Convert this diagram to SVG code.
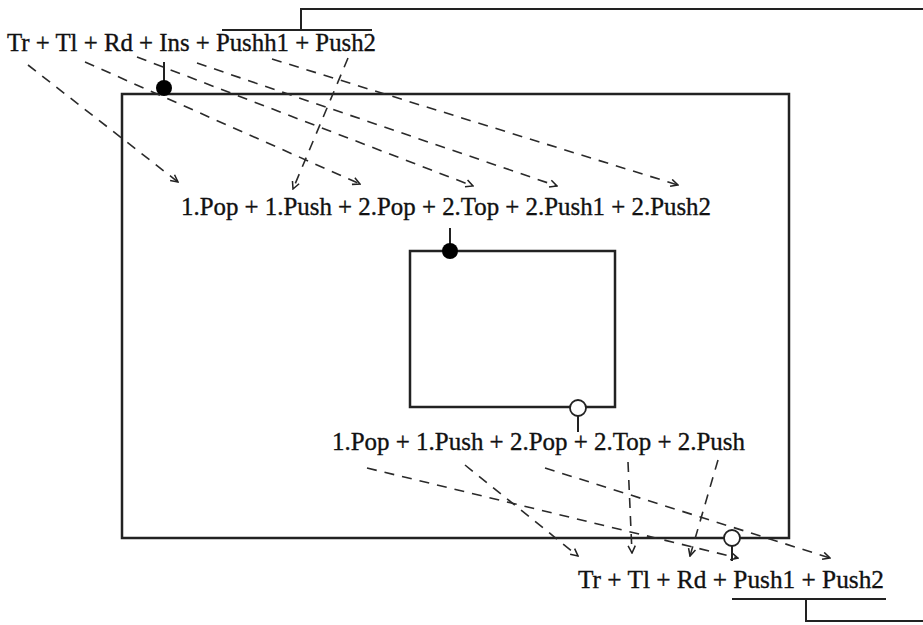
<svg xmlns="http://www.w3.org/2000/svg" width="923" height="625" viewBox="0 0 923 625">
  <defs>
    <marker id="arr" viewBox="0 0 10 10" refX="9" refY="5" markerWidth="9" markerHeight="9" markerUnits="userSpaceOnUse" orient="auto">
      <path d="M1,1 L9,5 L1,9" fill="none" stroke="#222" stroke-width="1.7"/>
    </marker>
  </defs>
  <style>
    .lbl { font-family: "Liberation Serif", "Times New Roman", serif; font-size: 26px; fill: #111; stroke: #111; stroke-width: 0.35; }
    .box { fill: none; stroke: #222; stroke-width: 2.5; }
    .ln { fill: none; stroke: #222; stroke-width: 2; }
    .dash { fill: none; stroke: #2a2a2a; stroke-width: 1.6; stroke-dasharray: 10 8; marker-end: url(#arr); }
    .dot { fill: #000; }
    .ring { fill: #fff; stroke: #222; stroke-width: 1.8; }
  </style>
  <rect width="923" height="625" fill="#fff"/>

  <g id="outer-box">
    <rect class="box" x="122" y="94" width="667" height="444"/>
  </g>
  <g id="inner-box">
    <rect class="box" x="410" y="251" width="205" height="156"/>
  </g>

  <g id="top-label">
    <text class="lbl" x="7" y="51" textLength="369" lengthAdjust="spacingAndGlyphs">Tr + Tl + Rd + Ins + Pushh1 + Push2</text>
    <path class="ln" d="M222,30 H372 M301,30 V9 H923"/>
  </g>
  <g id="outer-label">
    <text class="lbl" x="181" y="215" textLength="530" lengthAdjust="spacingAndGlyphs">1.Pop + 1.Push + 2.Pop + 2.Top + 2.Push1 + 2.Push2</text>
  </g>
  <g id="inner-label">
    <text class="lbl" x="332" y="450" textLength="413" lengthAdjust="spacingAndGlyphs">1.Pop + 1.Push + 2.Pop + 2.Top + 2.Push</text>
  </g>
  <g id="bottom-label">
    <text class="lbl" x="578" y="588" textLength="306" lengthAdjust="spacingAndGlyphs">Tr + Tl + Rd + Push1 + Push2</text>
    <path class="ln" d="M732,599 H886 M806,599 V621 H923"/>
  </g>

  <g id="port-outer-in">
    <line class="ln" x1="164" y1="62" x2="164" y2="82"/>
    <circle class="dot" cx="164" cy="88" r="8"/>
  </g>
  <g id="port-inner-in">
    <line class="ln" x1="450" y1="228" x2="450" y2="245"/>
    <circle class="dot" cx="450" cy="251" r="8"/>
  </g>
  <g id="port-inner-out">
    <line class="ln" x1="578" y1="416" x2="578" y2="432"/>
    <circle class="ring" cx="578" cy="408" r="8"/>
  </g>
  <g id="port-outer-out">
    <line class="ln" x1="732" y1="546" x2="732" y2="561"/>
    <circle class="ring" cx="732" cy="538" r="8"/>
  </g>

  <g id="connectors">
    <line class="dash" x1="28" y1="65" x2="178" y2="182"/>
    <line class="dash" x1="85" y1="62" x2="360" y2="184"/>
    <line class="dash" x1="137" y1="57" x2="473" y2="186"/>
    <line class="dash" x1="197" y1="63" x2="557" y2="186"/>
    <line class="dash" x1="272" y1="59" x2="678" y2="185"/>
    <line class="dash" x1="348" y1="58" x2="293" y2="189"/>

    <line class="dash" x1="367" y1="468" x2="738" y2="558"/>
    <line class="dash" x1="465" y1="465" x2="578" y2="556"/>
    <line class="dash" x1="545" y1="468" x2="830" y2="558"/>
    <line class="dash" x1="628" y1="462" x2="632" y2="553"/>
    <line class="dash" x1="718" y1="460" x2="690" y2="556"/>
  </g>
</svg>
